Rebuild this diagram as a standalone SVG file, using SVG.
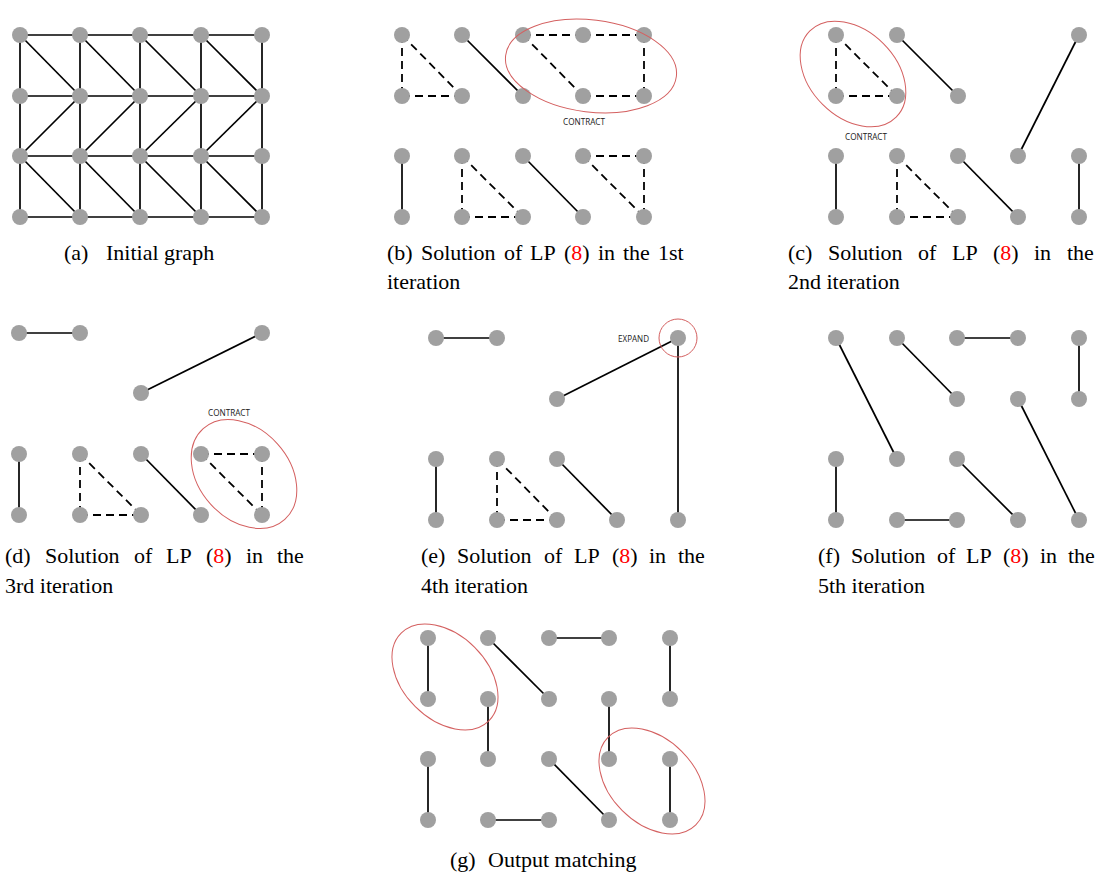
<svg xmlns="http://www.w3.org/2000/svg" width="1100" height="882" viewBox="0 0 1100 882">
<style>
.e{stroke:#000;stroke-width:1.7;fill:none}
.d{stroke:#000;stroke-width:1.8;stroke-dasharray:8 5;fill:none}
.n{fill:#a0a0a0}
.o{fill:none;stroke:#d46060;stroke-width:1}
.cap{font-family:"Liberation Serif","Times New Roman",serif;font-size:22px;fill:#000}
.lab{font-family:"Open Sans","Liberation Sans",sans-serif;font-size:9px;fill:#1a1a1a}
.r{fill:#ff0000}
</style>
<rect width="1100" height="882" fill="#fff"/>
<g id="connectors">
<g id="conn-a">
<line class="e" x1="20" y1="35" x2="80" y2="35"/><line class="e" x1="80" y1="35" x2="140" y2="35"/><line class="e" x1="140" y1="35" x2="201" y2="35"/><line class="e" x1="201" y1="35" x2="262" y2="35"/>
<line class="e" x1="20" y1="96" x2="80" y2="96"/><line class="e" x1="80" y1="96" x2="140" y2="96"/><line class="e" x1="140" y1="96" x2="201" y2="96"/><line class="e" x1="201" y1="96" x2="262" y2="96"/>
<line class="e" x1="20" y1="156" x2="80" y2="156"/><line class="e" x1="80" y1="156" x2="140" y2="156"/><line class="e" x1="140" y1="156" x2="201" y2="156"/><line class="e" x1="201" y1="156" x2="262" y2="156"/>
<line class="e" x1="20" y1="217" x2="80" y2="217"/><line class="e" x1="80" y1="217" x2="140" y2="217"/><line class="e" x1="140" y1="217" x2="201" y2="217"/><line class="e" x1="201" y1="217" x2="262" y2="217"/>
<line class="e" x1="20" y1="35" x2="20" y2="96"/><line class="e" x1="20" y1="96" x2="20" y2="156"/><line class="e" x1="20" y1="156" x2="20" y2="217"/>
<line class="e" x1="80" y1="35" x2="80" y2="96"/><line class="e" x1="80" y1="96" x2="80" y2="156"/><line class="e" x1="80" y1="156" x2="80" y2="217"/>
<line class="e" x1="140" y1="35" x2="140" y2="96"/><line class="e" x1="140" y1="96" x2="140" y2="156"/><line class="e" x1="140" y1="156" x2="140" y2="217"/>
<line class="e" x1="201" y1="35" x2="201" y2="96"/><line class="e" x1="201" y1="96" x2="201" y2="156"/><line class="e" x1="201" y1="156" x2="201" y2="217"/>
<line class="e" x1="262" y1="35" x2="262" y2="96"/><line class="e" x1="262" y1="96" x2="262" y2="156"/><line class="e" x1="262" y1="156" x2="262" y2="217"/>
<line class="e" x1="20" y1="35" x2="80" y2="96"/><line class="e" x1="80" y1="35" x2="140" y2="96"/><line class="e" x1="140" y1="35" x2="201" y2="96"/><line class="e" x1="201" y1="35" x2="262" y2="96"/>
<line class="e" x1="80" y1="96" x2="20" y2="156"/><line class="e" x1="140" y1="96" x2="80" y2="156"/><line class="e" x1="201" y1="96" x2="140" y2="156"/><line class="e" x1="262" y1="96" x2="201" y2="156"/>
<line class="e" x1="20" y1="156" x2="80" y2="217"/><line class="e" x1="80" y1="156" x2="140" y2="217"/><line class="e" x1="140" y1="156" x2="201" y2="217"/><line class="e" x1="201" y1="156" x2="262" y2="217"/>
</g>
<g id="conn-b">
<line class="d" x1="402" y1="35" x2="402" y2="96"/><line class="d" x1="402" y1="35" x2="462" y2="96"/><line class="d" x1="402" y1="96" x2="462" y2="96"/>
<line class="e" x1="462" y1="35" x2="523" y2="96"/>
<line class="d" x1="523" y1="35" x2="583" y2="35"/><line class="d" x1="583" y1="35" x2="644" y2="35"/><line class="d" x1="644" y1="35" x2="644" y2="96"/><line class="d" x1="583" y1="96" x2="644" y2="96"/><line class="d" x1="523" y1="35" x2="583" y2="96"/>
<line class="e" x1="402" y1="156" x2="402" y2="217"/>
<line class="d" x1="462" y1="156" x2="462" y2="217"/><line class="d" x1="462" y1="156" x2="523" y2="217"/><line class="d" x1="462" y1="217" x2="523" y2="217"/>
<line class="e" x1="523" y1="156" x2="583" y2="217"/>
<line class="d" x1="583" y1="156" x2="644" y2="156"/><line class="d" x1="583" y1="156" x2="644" y2="217"/><line class="d" x1="644" y1="156" x2="644" y2="217"/>
</g>
<g id="conn-c">
<line class="d" x1="836" y1="35" x2="836" y2="96"/><line class="d" x1="836" y1="35" x2="897" y2="96"/><line class="d" x1="836" y1="96" x2="897" y2="96"/>
<line class="e" x1="897" y1="35" x2="958" y2="96"/>
<line class="e" x1="1079" y1="35" x2="1018" y2="156"/>
<line class="e" x1="836" y1="156" x2="836" y2="217"/>
<line class="d" x1="897" y1="156" x2="897" y2="217"/><line class="d" x1="897" y1="156" x2="958" y2="217"/><line class="d" x1="897" y1="217" x2="958" y2="217"/>
<line class="e" x1="958" y1="156" x2="1018" y2="217"/>
<line class="e" x1="1079" y1="156" x2="1079" y2="217"/>
</g>
<g id="conn-d">
<line class="e" x1="19" y1="333" x2="80" y2="333"/>
<line class="e" x1="262" y1="333" x2="141" y2="393"/>
<line class="e" x1="19" y1="454" x2="19" y2="515"/>
<line class="d" x1="80" y1="454" x2="80" y2="515"/><line class="d" x1="80" y1="454" x2="141" y2="515"/><line class="d" x1="80" y1="515" x2="141" y2="515"/>
<line class="e" x1="141" y1="454" x2="201" y2="515"/>
<line class="d" x1="201" y1="454" x2="262" y2="454"/><line class="d" x1="201" y1="454" x2="262" y2="515"/><line class="d" x1="262" y1="454" x2="262" y2="515"/>
</g>
<g id="conn-e">
<line class="e" x1="436" y1="338" x2="497" y2="338"/>
<line class="e" x1="678" y1="338" x2="557" y2="399"/>
<line class="e" x1="678" y1="338" x2="678" y2="520"/>
<line class="e" x1="436" y1="459" x2="436" y2="520"/>
<line class="d" x1="497" y1="459" x2="497" y2="520"/><line class="d" x1="497" y1="459" x2="557" y2="520"/><line class="d" x1="497" y1="520" x2="557" y2="520"/>
<line class="e" x1="557" y1="459" x2="617" y2="520"/>
</g>
<g id="conn-f">
<line class="e" x1="836" y1="338" x2="897" y2="459"/>
<line class="e" x1="897" y1="338" x2="957" y2="399"/>
<line class="e" x1="957" y1="338" x2="1018" y2="338"/>
<line class="e" x1="1079" y1="338" x2="1079" y2="399"/>
<line class="e" x1="1018" y1="399" x2="1079" y2="520"/>
<line class="e" x1="836" y1="459" x2="836" y2="520"/>
<line class="e" x1="897" y1="520" x2="957" y2="520"/>
<line class="e" x1="957" y1="459" x2="1018" y2="520"/>
</g>
<g id="conn-g">
<line class="e" x1="428" y1="638" x2="428" y2="699"/>
<line class="e" x1="488" y1="638" x2="549" y2="699"/>
<line class="e" x1="549" y1="638" x2="609" y2="638"/>
<line class="e" x1="670" y1="638" x2="670" y2="699"/>
<line class="e" x1="488" y1="699" x2="488" y2="759"/>
<line class="e" x1="609" y1="699" x2="609" y2="759"/>
<line class="e" x1="428" y1="759" x2="428" y2="820"/>
<line class="e" x1="549" y1="759" x2="609" y2="820"/>
<line class="e" x1="488" y1="820" x2="549" y2="820"/>
<line class="e" x1="670" y1="759" x2="670" y2="820"/>
</g>
</g>
<g id="nodes-a">
<g id="a-00"><circle class="n" cx="20" cy="35" r="8"/></g><g id="a-01"><circle class="n" cx="80" cy="35" r="8"/></g><g id="a-02"><circle class="n" cx="140" cy="35" r="8"/></g><g id="a-03"><circle class="n" cx="201" cy="35" r="8"/></g><g id="a-04"><circle class="n" cx="262" cy="35" r="8"/></g>
<g id="a-10"><circle class="n" cx="20" cy="96" r="8"/></g><g id="a-11"><circle class="n" cx="80" cy="96" r="8"/></g><g id="a-12"><circle class="n" cx="140" cy="96" r="8"/></g><g id="a-13"><circle class="n" cx="201" cy="96" r="8"/></g><g id="a-14"><circle class="n" cx="262" cy="96" r="8"/></g>
<g id="a-20"><circle class="n" cx="20" cy="156" r="8"/></g><g id="a-21"><circle class="n" cx="80" cy="156" r="8"/></g><g id="a-22"><circle class="n" cx="140" cy="156" r="8"/></g><g id="a-23"><circle class="n" cx="201" cy="156" r="8"/></g><g id="a-24"><circle class="n" cx="262" cy="156" r="8"/></g>
<g id="a-30"><circle class="n" cx="20" cy="217" r="8"/></g><g id="a-31"><circle class="n" cx="80" cy="217" r="8"/></g><g id="a-32"><circle class="n" cx="140" cy="217" r="8"/></g><g id="a-33"><circle class="n" cx="201" cy="217" r="8"/></g><g id="a-34"><circle class="n" cx="262" cy="217" r="8"/></g>
</g>
<g id="nodes-b">
<g id="b-00"><circle class="n" cx="402" cy="35" r="8"/></g><g id="b-01"><circle class="n" cx="462" cy="35" r="8"/></g><g id="b-02"><circle class="n" cx="523" cy="35" r="8"/></g><g id="b-03"><circle class="n" cx="583" cy="35" r="8"/></g><g id="b-04"><circle class="n" cx="644" cy="35" r="8"/></g>
<g id="b-10"><circle class="n" cx="402" cy="96" r="8"/></g><g id="b-11"><circle class="n" cx="462" cy="96" r="8"/></g><g id="b-12"><circle class="n" cx="523" cy="96" r="8"/></g><g id="b-13"><circle class="n" cx="583" cy="96" r="8"/></g><g id="b-14"><circle class="n" cx="644" cy="96" r="8"/></g>
<g id="b-20"><circle class="n" cx="402" cy="156" r="8"/></g><g id="b-21"><circle class="n" cx="462" cy="156" r="8"/></g><g id="b-22"><circle class="n" cx="523" cy="156" r="8"/></g><g id="b-23"><circle class="n" cx="583" cy="156" r="8"/></g><g id="b-24"><circle class="n" cx="644" cy="156" r="8"/></g>
<g id="b-30"><circle class="n" cx="402" cy="217" r="8"/></g><g id="b-31"><circle class="n" cx="462" cy="217" r="8"/></g><g id="b-32"><circle class="n" cx="523" cy="217" r="8"/></g><g id="b-33"><circle class="n" cx="583" cy="217" r="8"/></g><g id="b-34"><circle class="n" cx="644" cy="217" r="8"/></g>
</g>
<g id="nodes-c">
<g id="c-00"><circle class="n" cx="836" cy="35" r="8"/></g><g id="c-01"><circle class="n" cx="897" cy="35" r="8"/></g><g id="c-04"><circle class="n" cx="1079" cy="35" r="8"/></g>
<g id="c-10"><circle class="n" cx="836" cy="96" r="8"/></g><g id="c-11"><circle class="n" cx="897" cy="96" r="8"/></g><g id="c-12"><circle class="n" cx="958" cy="96" r="8"/></g>
<g id="c-20"><circle class="n" cx="836" cy="156" r="8"/></g><g id="c-21"><circle class="n" cx="897" cy="156" r="8"/></g><g id="c-22"><circle class="n" cx="958" cy="156" r="8"/></g><g id="c-23"><circle class="n" cx="1018" cy="156" r="8"/></g><g id="c-24"><circle class="n" cx="1079" cy="156" r="8"/></g>
<g id="c-30"><circle class="n" cx="836" cy="217" r="8"/></g><g id="c-31"><circle class="n" cx="897" cy="217" r="8"/></g><g id="c-32"><circle class="n" cx="958" cy="217" r="8"/></g><g id="c-33"><circle class="n" cx="1018" cy="217" r="8"/></g><g id="c-34"><circle class="n" cx="1079" cy="217" r="8"/></g>
</g>
<g id="nodes-d">
<g id="d-00"><circle class="n" cx="19" cy="333" r="8"/></g><g id="d-01"><circle class="n" cx="80" cy="333" r="8"/></g><g id="d-04"><circle class="n" cx="262" cy="333" r="8"/></g>
<g id="d-12"><circle class="n" cx="141" cy="393" r="8"/></g>
<g id="d-20"><circle class="n" cx="19" cy="454" r="8"/></g><g id="d-21"><circle class="n" cx="80" cy="454" r="8"/></g><g id="d-22"><circle class="n" cx="141" cy="454" r="8"/></g><g id="d-23"><circle class="n" cx="201" cy="454" r="8"/></g><g id="d-24"><circle class="n" cx="262" cy="454" r="8"/></g>
<g id="d-30"><circle class="n" cx="19" cy="515" r="8"/></g><g id="d-31"><circle class="n" cx="80" cy="515" r="8"/></g><g id="d-32"><circle class="n" cx="141" cy="515" r="8"/></g><g id="d-33"><circle class="n" cx="201" cy="515" r="8"/></g><g id="d-34"><circle class="n" cx="262" cy="515" r="8"/></g>
</g>
<g id="nodes-e">
<g id="e-00"><circle class="n" cx="436" cy="338" r="8"/></g><g id="e-01"><circle class="n" cx="497" cy="338" r="8"/></g><g id="e-04"><circle class="n" cx="678" cy="338" r="8"/></g>
<g id="e-12"><circle class="n" cx="557" cy="399" r="8"/></g>
<g id="e-20"><circle class="n" cx="436" cy="459" r="8"/></g><g id="e-21"><circle class="n" cx="497" cy="459" r="8"/></g><g id="e-22"><circle class="n" cx="557" cy="459" r="8"/></g>
<g id="e-30"><circle class="n" cx="436" cy="520" r="8"/></g><g id="e-31"><circle class="n" cx="497" cy="520" r="8"/></g><g id="e-32"><circle class="n" cx="557" cy="520" r="8"/></g><g id="e-33"><circle class="n" cx="617" cy="520" r="8"/></g><g id="e-34"><circle class="n" cx="678" cy="520" r="8"/></g>
</g>
<g id="nodes-f">
<g id="f-00"><circle class="n" cx="836" cy="338" r="8"/></g><g id="f-01"><circle class="n" cx="897" cy="338" r="8"/></g><g id="f-02"><circle class="n" cx="957" cy="338" r="8"/></g><g id="f-03"><circle class="n" cx="1018" cy="338" r="8"/></g><g id="f-04"><circle class="n" cx="1079" cy="338" r="8"/></g>
<g id="f-12"><circle class="n" cx="957" cy="399" r="8"/></g><g id="f-13"><circle class="n" cx="1018" cy="399" r="8"/></g><g id="f-14"><circle class="n" cx="1079" cy="399" r="8"/></g>
<g id="f-20"><circle class="n" cx="836" cy="459" r="8"/></g><g id="f-21"><circle class="n" cx="897" cy="459" r="8"/></g><g id="f-22"><circle class="n" cx="957" cy="459" r="8"/></g>
<g id="f-30"><circle class="n" cx="836" cy="520" r="8"/></g><g id="f-31"><circle class="n" cx="897" cy="520" r="8"/></g><g id="f-32"><circle class="n" cx="957" cy="520" r="8"/></g><g id="f-33"><circle class="n" cx="1018" cy="520" r="8"/></g><g id="f-34"><circle class="n" cx="1079" cy="520" r="8"/></g>
</g>
<g id="nodes-g">
<g id="g-00"><circle class="n" cx="428" cy="638" r="8"/></g><g id="g-01"><circle class="n" cx="488" cy="638" r="8"/></g><g id="g-02"><circle class="n" cx="549" cy="638" r="8"/></g><g id="g-03"><circle class="n" cx="609" cy="638" r="8"/></g><g id="g-04"><circle class="n" cx="670" cy="638" r="8"/></g>
<g id="g-10"><circle class="n" cx="428" cy="699" r="8"/></g><g id="g-11"><circle class="n" cx="488" cy="699" r="8"/></g><g id="g-12"><circle class="n" cx="549" cy="699" r="8"/></g><g id="g-13"><circle class="n" cx="609" cy="699" r="8"/></g><g id="g-14"><circle class="n" cx="670" cy="699" r="8"/></g>
<g id="g-20"><circle class="n" cx="428" cy="759" r="8"/></g><g id="g-21"><circle class="n" cx="488" cy="759" r="8"/></g><g id="g-22"><circle class="n" cx="549" cy="759" r="8"/></g><g id="g-23"><circle class="n" cx="609" cy="759" r="8"/></g><g id="g-24"><circle class="n" cx="670" cy="759" r="8"/></g>
<g id="g-30"><circle class="n" cx="428" cy="820" r="8"/></g><g id="g-31"><circle class="n" cx="488" cy="820" r="8"/></g><g id="g-32"><circle class="n" cx="549" cy="820" r="8"/></g><g id="g-33"><circle class="n" cx="609" cy="820" r="8"/></g><g id="g-34"><circle class="n" cx="670" cy="820" r="8"/></g>
</g>
<g id="highlights">
<ellipse class="o" cx="591" cy="66" rx="86" ry="46" transform="rotate(7 591 66)"/>
<text class="lab" x="563" y="125" textLength="42" lengthAdjust="spacingAndGlyphs">CONTRACT</text>
<ellipse class="o" cx="853" cy="74" rx="61" ry="43" transform="rotate(45 853 74)"/>
<text class="lab" x="845" y="140" textLength="42" lengthAdjust="spacingAndGlyphs">CONTRACT</text>
<ellipse class="o" cx="244" cy="474" rx="61" ry="45" transform="rotate(48 244 474)"/>
<text class="lab" x="208" y="416" textLength="42" lengthAdjust="spacingAndGlyphs">CONTRACT</text>
<circle class="o" cx="678" cy="338" r="19"/>
<text class="lab" x="618" y="342" textLength="31" lengthAdjust="spacingAndGlyphs">EXPAND</text>
<ellipse class="o" cx="445" cy="677" rx="62" ry="42" transform="rotate(45 445 677)"/>
<ellipse class="o" cx="652" cy="781" rx="62" ry="42" transform="rotate(45 652 781)"/>
</g>
<g id="captions" class="cap">
<text x="64" y="260">(a)</text><text x="106" y="260">Initial graph</text>
<text y="260"><tspan x="387">(b)</tspan><tspan x="421">Solution</tspan><tspan x="504">of</tspan><tspan x="530">LP</tspan><tspan x="564">(<tspan class="r">8</tspan>)</tspan><tspan x="598">in</tspan><tspan x="623">the</tspan><tspan x="658">1st</tspan></text>
<text x="387" y="289">iteration</text>
<text y="260"><tspan x="788">(c)</tspan><tspan x="828">Solution</tspan><tspan x="918">of</tspan><tspan x="952">LP</tspan><tspan x="993">(<tspan class="r">8</tspan>)</tspan><tspan x="1034">in</tspan><tspan x="1067">the</tspan></text>
<text x="788" y="289">2nd iteration</text>
<text y="563"><tspan x="5">(d)</tspan><tspan x="45">Solution</tspan><tspan x="134">of</tspan><tspan x="166">LP</tspan><tspan x="206">(<tspan class="r">8</tspan>)</tspan><tspan x="246">in</tspan><tspan x="277">the</tspan></text>
<text x="5" y="593">3rd iteration</text>
<text y="563"><tspan x="421">(e)</tspan><tspan x="457">Solution</tspan><tspan x="544">of</tspan><tspan x="574">LP</tspan><tspan x="612">(<tspan class="r">8</tspan>)</tspan><tspan x="649">in</tspan><tspan x="678">the</tspan></text>
<text x="421" y="593">4th iteration</text>
<text y="563"><tspan x="818">(f)</tspan><tspan x="851">Solution</tspan><tspan x="937">of</tspan><tspan x="966">LP</tspan><tspan x="1003">(<tspan class="r">8</tspan>)</tspan><tspan x="1040">in</tspan><tspan x="1068">the</tspan></text>
<text x="818" y="593">5th iteration</text>
<text x="450" y="867">(g)</text><text x="488" y="867">Output matching</text>
</g>
</svg>
